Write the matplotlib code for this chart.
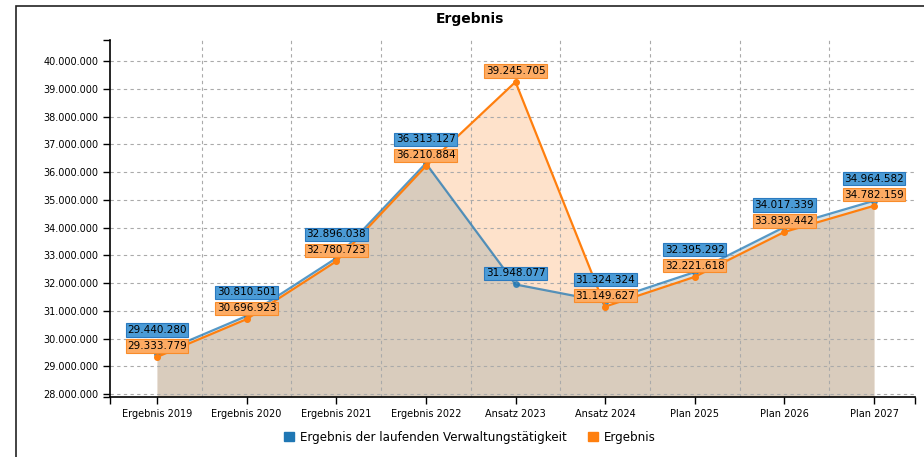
import matplotlib
matplotlib.use('Agg')
import numpy as np
import matplotlib.pyplot as plt
from matplotlib.patches import Rectangle
from matplotlib.ticker import FuncFormatter

categories = ["Ergebnis 2019", "Ergebnis 2020", "Ergebnis 2021", "Ergebnis 2022",
              "Ansatz 2023", "Ansatz 2024", "Plan 2025", "Plan 2026", "Plan 2027"]
laufend = [29440280, 30810501, 32896038, 36313127, 31948077,
           31324324, 32395292, 34017339, 34964582]
ergebnis = [29333779, 30696923, 32780723, 36210884, 39245705,
            31149627, 32221618, 33839442, 34782159]
series_names = ["Ergebnis der laufenden Verwaltungstätigkeit", "Ergebnis"]


def de(v):
    return "{:,.0f}".format(v).replace(",", ".")


fig = plt.figure(figsize=(9.24, 4.57), dpi=100)
ax = fig.add_axes([110 / 924, 1 - 397 / 457, 805 / 924, 357 / 457])

# outer frame
fig.patches.append(Rectangle((16 / 924, -0.02), 1.0, 1 - 6 / 457 + 0.02,
                             transform=fig.transFigure, fill=False,
                             edgecolor='#222222', lw=1.2))

x = np.arange(len(categories))
ylo, yhi = 27892000, 40757000
blue = '#1f77b4'
orange = '#ff7f0e'

ax.fill_between(x, ylo, ergebnis, color='#fee2cb', lw=0, zorder=1)
ax.fill_between(x, ylo, laufend, color=(110 / 255, 140 / 255, 150 / 255),
                alpha=0.25, lw=0, zorder=1.5)
ax.plot(x, laufend, color=blue, alpha=0.75, lw=1.6, marker='o', ms=4, zorder=3)
ax.plot(x, ergebnis, color=orange, lw=1.6, marker='o', ms=4, zorder=3)

ax.set_xlim(-0.524, 8.457)
ax.set_ylim(ylo, yhi)

# value labels (orange just above point, blue stacked above if needed)
px_per_val = 27.75 / 1e6
for i in x:
    yo = (ergebnis[i] - ylo) * px_per_val
    yb = (laufend[i] - ylo) * px_per_val
    lo = yo + 11
    lb = yb + 11
    if abs(lb - lo) < 16:
        lb = lo + 16 if lb >= lo - 2 else lo - 16
    ax.annotate(de(ergebnis[i]), (i, ergebnis[i]), xytext=(0, (lo - yo) / 1.389),
                textcoords='offset points', ha='center', va='center', fontsize=7.5,
                zorder=5, bbox=dict(boxstyle='square,pad=0.15', fc='#fdab63',
                                    ec='#f98c2a', lw=0.8))
    ax.annotate(de(laufend[i]), (i, laufend[i]), xytext=(0, (lb - yb) / 1.389),
                textcoords='offset points', ha='center', va='center', fontsize=7.5,
                zorder=5, bbox=dict(boxstyle='square,pad=0.15', fc='#4b9bd6',
                                    ec='#2a7ac0', lw=0.8))

ax.set_xticks(x)
ax.set_xticklabels(categories, fontsize=7)
ax.set_yticks(np.arange(28000000, 40000001, 1000000))
ax.yaxis.set_major_formatter(FuncFormatter(lambda v, p: de(v)))
ax.tick_params(axis='y', labelsize=7, length=5, width=1)
ax.tick_params(axis='x', length=5, width=1)
ax.set_xticks([-0.524, 8.457], minor=True)
ax.set_yticks([ylo, yhi], minor=True)
ax.tick_params(which='minor', length=5, width=1)

for v in np.arange(28000000, 40000001, 1000000):
    ax.axhline(v, color='#aaaaaa', ls=(0, (3, 3)), lw=0.8, zorder=2)
for b in np.arange(0.5, 8, 1):
    ax.axvline(b, color='#aaaaaa', ls=(0, (3, 3)), lw=0.8, zorder=2)

ax.spines['top'].set_visible(False)
ax.spines['right'].set_visible(False)
ax.spines['left'].set_linewidth(1.2)
ax.spines['bottom'].set_linewidth(1.2)

fig.text(470 / 924, 1 - 19 / 457, "Ergebnis", ha='center', va='center',
         fontsize=10, fontweight='bold')

h1 = plt.Rectangle((0, 0), 1, 1, color=blue)
h2 = plt.Rectangle((0, 0), 1, 1, color=orange)
fig.legend([h1, h2], series_names, loc='center', bbox_to_anchor=(470 / 924, 1 - 437 / 457),
           ncol=2, frameon=False, fontsize=8.6, handlelength=0.8, handleheight=0.8,
           columnspacing=1.8, handletextpad=0.5)

fig.savefig('out.png', dpi=100)
